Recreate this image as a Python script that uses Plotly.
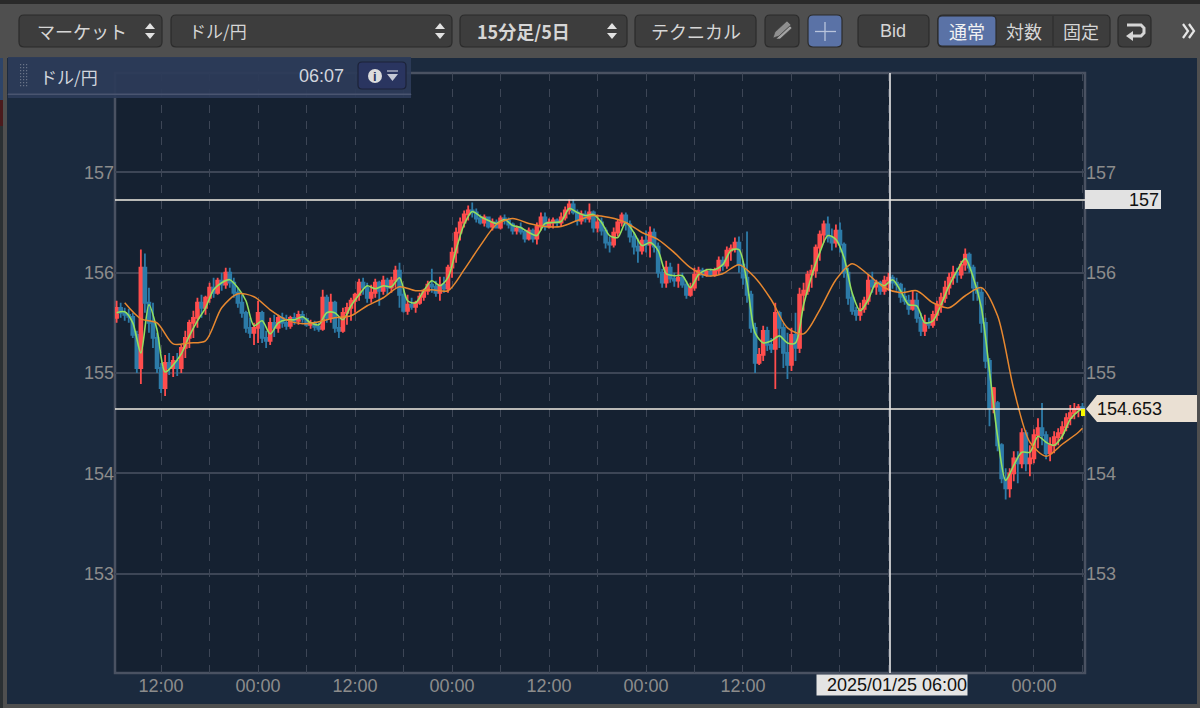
import pandas as pd
import plotly.graph_objects as go

# 30 minute bars, market shut from Sat 07:00 to Mon 07:00
bar_times = list(pd.date_range("2025-01-21 06:30", "2025-01-25 06:30", freq="30min")) + \
    list(pd.date_range("2025-01-27 07:00", "2025-01-28 06:00", freq="30min"))

opens = [
    155.55,155.65,155.60,155.58,155.56,155.38,155.05,156.05,155.70,155.50,
    155.35,155.05,154.85,155.10,155.05,155.12,155.05,155.25,155.35,155.50,
    155.55,155.70,155.65,155.75,155.85,155.80,155.92,155.88,156.00,155.90,
    155.80,155.70,155.60,155.45,155.40,155.45,155.60,155.35,155.32,155.50,
    155.45,155.55,155.50,155.47,155.55,155.52,155.58,155.54,155.48,155.50,
    155.46,155.44,155.75,155.55,155.70,155.45,155.42,155.60,155.65,155.72,
    155.78,155.90,155.85,155.75,155.80,155.90,155.82,155.92,155.85,155.92,
    156.02,155.78,155.62,155.68,155.66,155.70,155.76,155.82,155.88,155.86,
    155.80,155.88,155.84,156.05,156.20,156.40,156.50,156.58,156.62,156.60,
    156.54,156.50,156.55,156.46,156.50,156.45,156.54,156.52,156.48,156.42,
    156.44,156.41,156.34,156.42,156.34,156.46,156.55,156.46,156.50,156.52,
    156.50,156.55,156.62,156.68,156.60,156.52,156.58,156.54,156.60,156.45,
    156.50,156.42,156.30,156.28,156.40,156.50,156.57,156.48,156.36,156.26,
    156.22,156.32,156.28,156.40,156.26,156.00,155.90,156.05,155.94,155.92,
    155.95,155.88,155.78,155.85,155.98,156.02,155.98,156.01,155.98,156.02,
    156.12,156.07,156.22,156.24,156.30,156.08,155.95,155.78,155.45,155.10,
    155.18,155.42,155.28,155.24,155.60,155.45,155.20,155.08,155.38,155.25,
    155.78,155.82,155.98,156.02,156.25,156.38,156.48,156.35,156.30,156.42,
    156.28,156.00,155.75,155.62,155.58,155.64,155.72,155.92,155.86,155.90,
    155.82,155.92,155.95,155.90,155.88,155.76,155.72,155.64,155.72,155.55,
    155.42,155.50,155.48,155.58,155.68,155.75,155.85,155.95,156.00,155.98,
    156.08,156.18,156.05,155.85,155.80,155.50,155.12,154.65,154.70,154.28,
    153.95,153.85,154.00,154.15,154.10,154.40,154.10,154.15,154.38,154.45,
    154.38,154.20,154.28,154.36,154.40,154.46,154.55,154.60,154.64,154.66,
]
closes = [
    155.65,155.60,155.58,155.56,155.38,155.05,156.05,155.70,155.50,155.35,
    155.05,154.85,155.10,155.05,155.12,155.05,155.25,155.35,155.50,155.55,
    155.70,155.65,155.75,155.85,155.80,155.92,155.88,156.00,155.90,155.80,
    155.70,155.60,155.45,155.40,155.45,155.60,155.35,155.32,155.50,155.45,
    155.55,155.50,155.47,155.55,155.52,155.58,155.54,155.48,155.50,155.46,
    155.44,155.75,155.55,155.70,155.45,155.42,155.60,155.65,155.72,155.78,
    155.90,155.85,155.75,155.80,155.90,155.82,155.92,155.85,155.92,156.02,
    155.78,155.62,155.68,155.66,155.70,155.76,155.82,155.88,155.86,155.80,
    155.88,155.84,156.05,156.20,156.40,156.50,156.58,156.62,156.60,156.54,
    156.50,156.55,156.46,156.50,156.45,156.54,156.52,156.48,156.42,156.44,
    156.41,156.34,156.42,156.34,156.46,156.55,156.46,156.50,156.52,156.50,
    156.55,156.62,156.68,156.60,156.52,156.58,156.54,156.60,156.45,156.50,
    156.42,156.30,156.28,156.40,156.50,156.57,156.48,156.36,156.26,156.22,
    156.32,156.28,156.40,156.26,156.00,155.90,156.05,155.94,155.92,155.95,
    155.88,155.78,155.85,155.98,156.02,155.98,156.01,155.98,156.02,156.12,
    156.07,156.22,156.24,156.30,156.08,155.95,155.78,155.45,155.10,155.18,
    155.42,155.28,155.24,155.60,155.45,155.20,155.08,155.38,155.25,155.78,
    155.82,155.98,156.02,156.25,156.38,156.48,156.35,156.30,156.42,156.28,
    156.00,155.75,155.62,155.58,155.64,155.72,155.92,155.86,155.90,155.82,
    155.92,155.95,155.90,155.88,155.76,155.72,155.64,155.72,155.55,155.42,
    155.50,155.48,155.58,155.68,155.75,155.85,155.95,156.00,155.98,156.08,
    156.18,156.05,155.85,155.80,155.50,155.12,154.65,154.85,154.28,153.95,
    153.85,154.00,154.15,154.10,154.40,154.10,154.15,154.38,154.45,154.38,
    154.20,154.28,154.36,154.40,154.46,154.55,154.60,154.64,154.66,154.65,
]
highs = [
    155.72,155.70,155.65,155.64,155.60,155.42,156.23,156.19,155.85,155.70,
    155.40,155.10,155.18,155.20,155.17,155.20,155.28,155.42,155.53,155.62,
    155.75,155.78,155.77,155.90,155.95,155.95,156.00,156.05,156.05,155.95,
    155.85,155.78,155.62,155.55,155.50,155.72,155.62,155.42,155.55,155.58,
    155.58,155.60,155.58,155.57,155.60,155.62,155.62,155.55,155.53,155.52,
    155.50,155.83,155.78,155.79,155.72,155.55,155.65,155.70,155.75,155.80,
    155.94,155.95,155.90,155.88,155.94,155.92,155.97,155.95,155.96,156.07,
    156.10,155.85,155.78,155.75,155.72,155.80,155.84,155.92,156.04,155.92,
    155.96,155.96,156.08,156.25,156.45,156.55,156.62,156.67,156.70,156.64,
    156.58,156.58,156.56,156.54,156.53,156.57,156.58,156.55,156.50,156.47,
    156.50,156.43,156.45,156.44,156.50,156.60,156.60,156.54,156.55,156.54,
    156.60,156.66,156.73,156.73,156.63,156.62,156.62,156.69,156.62,156.58,
    156.55,156.45,156.36,156.45,156.53,156.60,156.60,156.52,156.40,156.34,
    156.36,156.42,156.46,156.44,156.30,156.04,156.12,156.10,156.00,156.09,
    156.00,155.92,155.90,156.05,156.06,156.05,156.04,156.04,156.05,156.16,
    156.16,156.26,156.28,156.35,156.36,156.12,156.41,155.82,155.50,155.25,
    155.47,155.46,155.35,155.70,155.62,155.50,155.40,155.45,155.60,155.85,
    155.90,156.02,156.08,156.28,156.42,156.52,156.56,156.44,156.48,156.50,
    156.30,156.05,155.80,155.66,155.70,155.76,155.98,156.01,155.93,155.92,
    155.97,156.00,155.98,155.95,155.90,155.85,155.78,155.82,155.80,155.60,
    155.58,155.55,155.62,155.72,155.80,155.92,156.00,156.07,156.05,156.12,
    156.24,156.20,156.08,155.91,155.85,155.55,155.15,154.86,154.72,154.30,
    154.05,154.05,154.22,154.22,154.45,154.43,154.28,154.44,154.55,154.70,
    154.42,154.36,154.42,154.45,154.52,154.60,154.68,154.70,154.69,154.70,
]
lows = [
    155.50,155.55,155.52,155.50,155.35,155.00,154.89,155.60,155.40,155.25,
    155.00,154.80,154.77,154.98,154.96,154.97,155.00,155.15,155.25,155.35,
    155.45,155.55,155.58,155.70,155.75,155.78,155.82,155.84,155.85,155.75,
    155.65,155.55,155.40,155.35,155.28,155.30,155.30,155.25,155.28,155.36,
    155.40,155.45,155.43,155.44,155.48,155.48,155.50,155.46,155.44,155.42,
    155.41,155.42,155.50,155.50,155.40,155.35,155.40,155.48,155.52,155.60,
    155.72,155.78,155.70,155.70,155.75,155.67,155.78,155.78,155.80,155.85,
    155.65,155.60,155.58,155.63,155.60,155.68,155.72,155.78,155.80,155.76,
    155.72,155.80,155.80,155.95,156.10,156.32,156.45,156.52,156.55,156.50,
    156.48,156.46,156.44,156.42,156.44,156.43,156.48,156.44,156.38,156.38,
    156.38,156.30,156.32,156.30,156.28,156.42,156.42,156.44,156.44,156.46,
    156.46,156.52,156.58,156.58,156.47,156.48,156.50,156.50,156.40,156.40,
    156.37,156.24,156.20,156.25,156.36,156.46,156.42,156.30,156.18,156.10,
    156.18,156.20,156.15,156.20,155.95,155.85,155.85,155.90,155.86,155.85,
    155.85,155.74,155.76,155.82,155.92,155.95,155.96,155.96,155.96,155.98,
    156.02,156.04,156.12,156.20,156.00,155.88,155.70,155.40,155.00,155.08,
    155.12,155.22,155.20,154.84,155.25,155.05,154.94,155.02,155.12,155.20,
    155.62,155.78,155.85,155.95,156.12,156.30,156.30,156.22,156.25,156.20,
    155.95,155.68,155.58,155.52,155.52,155.60,155.68,155.80,155.78,155.78,
    155.78,155.82,155.84,155.82,155.70,155.68,155.58,155.62,155.50,155.37,
    155.37,155.44,155.45,155.52,155.60,155.70,155.78,155.88,155.90,155.94,
    156.02,156.00,155.72,155.72,155.40,155.05,154.47,154.60,154.22,153.90,
    153.74,153.76,153.92,153.90,154.05,154.02,153.97,154.10,154.25,154.28,
    154.14,154.12,154.20,154.28,154.34,154.42,154.48,154.54,154.56,154.58,
]

# short average, one value per hour
green_ma = [
    155.60,155.61,155.50,155.20,155.68,155.43,155.01,155.08,155.19,155.37,
    155.52,155.65,155.83,155.90,155.93,155.85,155.72,155.47,155.52,155.39,
    155.50,155.53,155.53,155.56,155.50,155.48,155.60,155.60,155.53,155.67,
    155.78,155.87,155.84,155.87,155.86,155.95,155.72,155.70,155.82,155.92,
    155.87,155.95,156.23,156.48,156.61,156.56,156.52,156.49,156.53,156.47,
    156.45,156.40,156.37,156.49,156.50,156.51,156.64,156.60,156.57,156.58,
    156.50,156.37,156.35,156.50,156.40,156.27,156.30,156.22,155.99,155.97,
    155.97,155.85,155.98,156.03,156.03,156.08,156.22,156.23,155.90,155.40,
    155.30,155.32,155.37,155.30,155.30,155.68,155.97,156.20,156.37,156.33,
    156.15,155.80,155.62,155.73,155.90,155.87,155.93,155.82,155.68,155.67,
    155.50,155.52,155.68,155.87,156.02,156.14,155.95,155.65,155.02,154.37,
    153.93,154.08,154.21,154.21,154.37,154.31,154.28,154.37,154.54,154.62,
    154.64,
]
# long average, one value every two hours
orange_ma = [
    155.70,155.54,155.50,155.29,155.30,155.32,155.65,155.79,155.76,155.63,
    155.53,155.49,155.51,155.55,155.57,155.67,155.75,155.86,155.82,155.83,
    155.82,156.03,156.27,156.48,156.54,156.49,156.46,156.46,156.52,156.57,
    156.55,156.50,156.40,156.33,156.20,156.05,155.97,155.99,156.08,155.95,
    155.73,155.45,155.39,155.63,155.93,156.09,155.98,155.85,155.80,155.82,
    155.70,155.65,155.77,155.85,155.57,154.84,154.31,154.17,154.29,154.41,
    154.45,
]
green_times = bar_times[::2] + [bar_times[-1]]
orange_times = bar_times[2::4] + [bar_times[-1]]

y_ticks = [153, 154, 155, 156, 157]
x_ticks = ["2025-01-21 12:00", "2025-01-21 18:00", "2025-01-22 00:00", "2025-01-22 06:00", "2025-01-22 12:00",
           "2025-01-22 18:00", "2025-01-23 00:00", "2025-01-23 06:00", "2025-01-23 12:00", "2025-01-23 18:00",
           "2025-01-24 00:00", "2025-01-24 06:00", "2025-01-24 12:00", "2025-01-24 18:00", "2025-01-25 00:00",
           "2025-01-25 06:00", "2025-01-27 12:00", "2025-01-27 18:00", "2025-01-28 00:00", "2025-01-28 06:00"]
x_tick_text = ["12:00", "", "00:00", "", "12:00", "", "00:00", "", "12:00", "", "00:00", "", "12:00", "", "",
               "", "", "", "00:00", ""]

W, H = 1200, 708
LATIN = "Liberation Sans, Noto Sans CJK JP"
CJK = "Noto Sans CJK JP, Liberation Sans"


def px(x):
    return x / W


def py(y):
    return 1 - y / H


def rect(x0, y0, x1, y1, fill, line=None, lw=1, layer="below"):
    return dict(type="rect", xref="paper", yref="paper", x0=px(x0), x1=px(x1), y0=py(y0), y1=py(y1),
                fillcolor=fill, line=dict(color=line, width=lw if line else 0), layer=layer)


def path(points, fill=None, line=None, lw=1, close=True, layer="above"):
    d = "M " + " L ".join(f"{px(a):.5f},{py(b):.5f}" for a, b in points)
    if close:
        d += " Z"
    s = dict(type="path", xref="paper", yref="paper", path=d, layer=layer, line=dict(color=line, width=lw if line else 0))
    if fill:
        s["fillcolor"] = fill
    return s


def rounded(x0, y0, x1, y1, fill, line="#2b2b2b", r=5, layer="below"):
    f = lambda a, b: f"{px(a):.5f},{py(b):.5f}"
    d = (f"M {f(x0 + r, y0)} L {f(x1 - r, y0)} Q {f(x1, y0)} {f(x1, y0 + r)} L {f(x1, y1 - r)} Q {f(x1, y1)} {f(x1 - r, y1)} "
         f"L {f(x0 + r, y1)} Q {f(x0, y1)} {f(x0, y1 - r)} L {f(x0, y0 + r)} Q {f(x0, y0)} {f(x0 + r, y0)} Z")
    return dict(type="path", xref="paper", yref="paper", path=d, fillcolor=fill, line=dict(color=line, width=1.2), layer=layer)


def label(x, y, text, size=18, color="#d6d6d6", anchor="left", family=CJK, bg=None, weight=None):
    t = f"<b>{text}</b>" if weight else text
    return dict(xref="paper", yref="paper", x=px(x), y=py(y), text=t, showarrow=False, xanchor=anchor, yanchor="middle",
                font=dict(size=size, color=color, family=family), bgcolor=bg, borderpad=0)


def updown(x, yc=31):
    return [path([(x - 5, yc - 2), (x, yc - 8), (x + 5, yc - 2)], fill="#e2e2e2"),
            path([(x - 5, yc + 2), (x, yc + 8), (x + 5, yc + 2)], fill="#e2e2e2")]


BTN = "#3d3d3d"
shapes = [
    rect(0, 0, 1200, 4, "#2a2a2a"),
    # desktop showing at the left edge
    rect(0, 58, 3, 100, "#2d4468"), rect(0, 100, 3, 126, "#4a1a1c"), rect(0, 126, 3, 708, "#2b3033"),
    rect(7, 58, 1197, 704, "#1b2a3e"),
    rect(115, 73, 1085, 673, "#152131", line="#4a5262", lw=2.5),
    rounded(19, 15, 162, 47, BTN), rounded(171, 15, 452, 47, BTN), rounded(460, 15, 627, 47, BTN),
    rounded(635, 15, 756, 47, BTN), rounded(765, 15, 799, 47, BTN), rounded(808, 15, 842, 47, "#5a72a6"),
    rounded(858, 15, 929, 47, BTN), rounded(938, 15, 1110, 47, BTN), rounded(938, 16, 996, 46, "#5a72a6", r=4),
    rounded(1118, 15, 1151, 47, BTN),
    path([(1053, 16), (1053, 46)], line="#2b2b2b", close=False, layer="below"),
    # plus button
    path([(825, 22), (825, 41)], line="#b9c4dc", lw=1.3, close=False),
    path([(815, 31.5), (836, 31.5)], line="#b9c4dc", lw=1.3, close=False),
    # pencil
    path([(773, 38), (775, 32), (787, 21), (791, 25), (779, 36)], fill="#8f8f8f", line="#3d3d3d", lw=0.6),
    path([(776, 39), (778, 37), (790, 26), (792, 28), (780, 39)], fill="#a5a5a5", line="#3d3d3d", lw=0.6),
    # return arrow
    path([(1127, 25), (1141, 25), (1144, 28), (1144, 33), (1141, 36), (1132, 36)], line="#d6d6d6", lw=3, close=False),
    path([(1126, 36), (1133, 31), (1133, 41)], fill="#d6d6d6"),
    # double chevron at the far right
    path([(1183, 24), (1188, 31), (1183, 38)], line="#e6e6e6", lw=2.2, close=False),
    path([(1189, 24), (1194, 31), (1189, 38)], line="#e6e6e6", lw=2.2, close=False),
    # chart overlays
    rect(115, 200, 1085, 200, "#f0ece2", line="#f0ece2", lw=1.6, layer="above"),
    rect(115, 409, 1085, 409, "#f0ece2", line="#f0ece2", lw=1.6, layer="above"),
    rect(890, 73, 890, 673, "#e8e8e8", line="#e8e8e8", lw=1.6, layer="above"),
    rect(1085, 190, 1161, 209, "#e2e2e2", layer="above"),
    path([(1086, 409), (1097, 395), (1197, 395), (1197, 422), (1097, 422)], fill="#eae0d3"),
    rect(1081, 409, 1085, 416, "#f7f700", layer="above"),
    # symbol bar over the chart
    rect(8, 57, 411, 98, "rgba(44,59,88,0.95)", layer="above"),
    rect(8, 94, 411, 94.5, "#4a5570", line="#4a5570", lw=1, layer="above"),
    rounded(358, 62, 406, 89, "#2a3560", line="#1c2338", r=4, layer="above"),
    dict(type="circle", xref="paper", yref="paper", x0=px(368), x1=px(382), y0=py(83), y1=py(69), fillcolor="#dcdcdc",
         line=dict(width=0), layer="above"),
    path([(387, 71), (398, 71)], line="#c5c9d5", lw=1.2, close=False),
    path([(387, 74), (398, 74), (392.5, 81)], fill="#c5c9d5"),
]
shapes += updown(150) + updown(440) + updown(612)
for yy in range(64, 88, 3):
    for xx in (20, 23, 26):
        shapes.append(rect(xx, yy, xx + 1.2, yy + 1.2, "#6a7488", layer="above"))

annotations = [
    label(36, 31, "マーケット"), label(188, 31, "ドル/円", 17), label(476, 31, "15分足/5日", weight=True),
    label(696, 31, "テクニカル", anchor="center"), label(893, 31, "Bid", anchor="center", family=LATIN),
    label(967, 31, "通常", color="#f2f2f2", anchor="center"), label(1024, 31, "対数", anchor="center"),
    label(1081, 31, "固定", anchor="center"),
    label(39, 76, "ドル/円", 17, color="#d2d6de"), label(345, 76, "06:07", color="#d2d6de", anchor="right", family=LATIN),
    label(375, 76, "i", 13, color="#2a3560", anchor="center", family=LATIN, weight=True),
    label(1160, 200, "157", color="#111111", anchor="right", family=LATIN),
    label(1096, 409, "154.653", color="#111111", family=LATIN),
    label(968, 685, "\u00a0\u00a02025/01/25 06:00", color="#111111", anchor="right", family=LATIN, bg="#e4e4e4"),
]

fig = go.Figure()
fig.add_trace(go.Candlestick(
    x=bar_times, open=opens, high=highs, low=lows, close=closes,
    increasing=dict(line=dict(color="#ff4d4d", width=1.8), fillcolor="#ff4d4d"),
    decreasing=dict(line=dict(color="#2d7ba8", width=1.8), fillcolor="#2d7ba8"),
    whiskerwidth=0, showlegend=False, hoverinfo="skip",
))
fig.add_trace(go.Scatter(x=orange_times, y=orange_ma, yaxis="y2", mode="lines", hoverinfo="skip", showlegend=False,
                         line=dict(color="#e8882f", width=1.5, shape="spline", smoothing=0.8)))
fig.add_trace(go.Scatter(x=green_times, y=green_ma, mode="lines", hoverinfo="skip", showlegend=False,
                         line=dict(color="#93e05f", width=1.6, shape="spline", smoothing=0.8)))

y_range = [152.01, 157.99]
y_common = dict(range=y_range, tickvals=y_ticks, ticktext=[str(v) for v in y_ticks], ticks="", zeroline=False,
                tickfont=dict(size=18, color="#8c8c8c", family=LATIN))

fig.update_layout(
    width=W, height=H, margin=dict(l=0, r=0, t=0, b=0),
    paper_bgcolor="#4f4f4f", plot_bgcolor="rgba(0,0,0,0)", showlegend=False, boxgap=0.0,
    shapes=shapes, annotations=annotations,
    xaxis=dict(domain=[px(115), px(1085)], range=["2025-01-21 06:18", "2025-01-28 06:19"],
               rangebreaks=[dict(bounds=["2025-01-25 07:00", "2025-01-27 07:00"])],
               rangeslider=dict(visible=False), tickmode="array", tickvals=x_ticks, ticktext=x_tick_text,
               tickangle=0, ticks="", showgrid=True, gridcolor="#3d4656", gridwidth=1.3, griddash="8px,8px",
               tickfont=dict(size=18, color="#8c8c8c", family=LATIN), zeroline=False),
    yaxis=dict(domain=[py(673), py(73)], showgrid=True, gridcolor="#3d4656", gridwidth=1.6, side="left", **y_common),
    yaxis2=dict(overlaying="y", side="right", showgrid=False, **y_common),
)

fig.write_html("out.html", config=dict(displayModeBar=False), post_script="document.body.style.margin='0';")
